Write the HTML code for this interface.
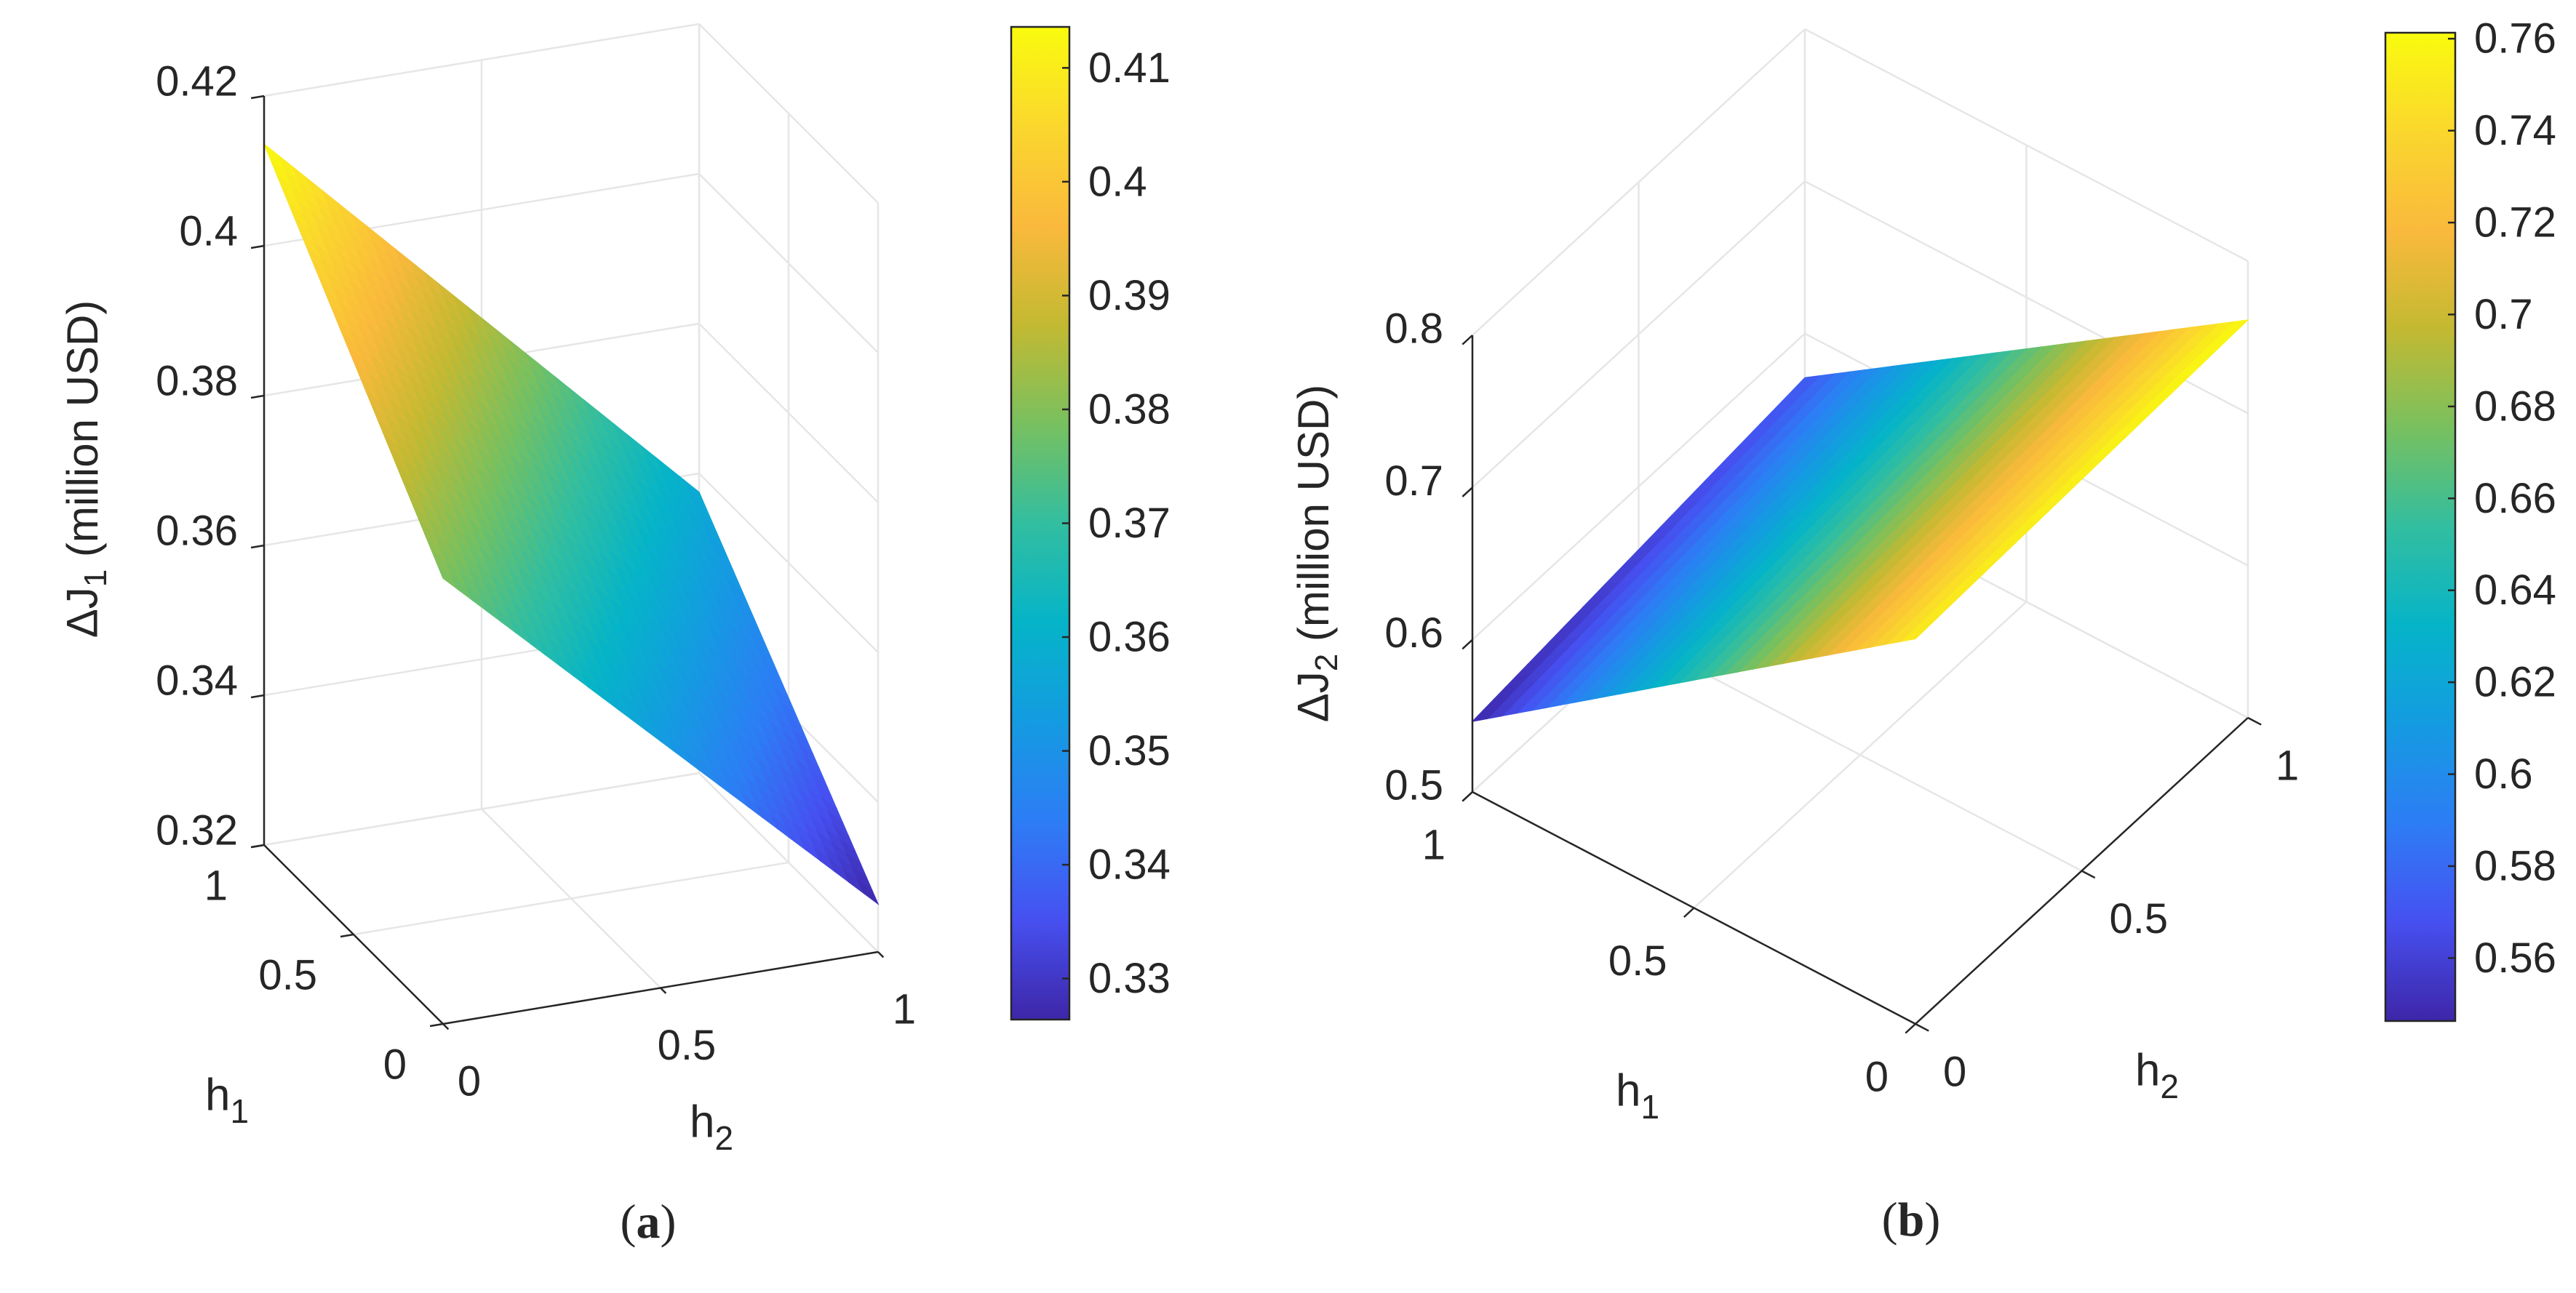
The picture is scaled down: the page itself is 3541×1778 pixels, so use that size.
<!DOCTYPE html>
<html><head><meta charset="utf-8"><style>
html,body{margin:0;padding:0;background:#fff}
svg{display:block}
text{font-family:"Liberation Sans",sans-serif;fill:#262626}
</style></head><body>
<svg id="fig" width="3541" height="1778" viewBox="0 0 3541 1778" xmlns="http://www.w3.org/2000/svg">
<defs>
<linearGradient id="parA" x1="0" y1="1" x2="0" y2="0"></linearGradient>
<linearGradient id="parB" x1="0" y1="1" x2="0" y2="0"></linearGradient>
</defs>
<g id="panelA"></g>
<g id="panelB"></g>
<text x="891" y="1680" font-size="66" text-anchor="middle" dominant-baseline="central" style="font-family:'Liberation Serif',serif">(<tspan font-weight="bold">a</tspan>)</text>
<text x="2627" y="1677" font-size="66" text-anchor="middle" dominant-baseline="central" style="font-family:'Liberation Serif',serif">(<tspan font-weight="bold">b</tspan>)</text>
</svg>
<script>
// Panel A data: corner values z[h1][h2]
const aH1 = [0, 1];
const aH2 = [0, 1];
const aZ = [[0.3795, 0.3264], [0.4136, 0.3575]];
const aZTicks = [0.32, 0.34, 0.36, 0.38, 0.40, 0.42];
const aZTickLabels = ["0.32", "0.34", "0.36", "0.38", "0.4", "0.42"];
const aCbTicks = [0.33, 0.34, 0.35, 0.36, 0.37, 0.38, 0.39, 0.40, 0.41];
const aCbLabels = ["0.33", "0.34", "0.35", "0.36", "0.37", "0.38", "0.39", "0.4", "0.41"];
// Panel B data
const bH1 = [0, 1];
const bH2 = [0, 1];
const bZ = [[0.753, 0.7613], [0.5463, 0.571]];
const bZTicks = [0.5, 0.6, 0.7, 0.8];
const bZTickLabels = ["0.5", "0.6", "0.7", "0.8"];
const bCbTicks = [0.56, 0.58, 0.60, 0.62, 0.64, 0.66, 0.68, 0.70, 0.72, 0.74, 0.76];
const bCbLabels = ["0.56", "0.58", "0.6", "0.62", "0.64", "0.66", "0.68", "0.7", "0.72", "0.74", "0.76"];
const hTicks = [0, 0.5, 1];
const hTickLabels = ["0", "0.5", "1"];

const NS = "http://www.w3.org/2000/svg";
const PARULA = [[0,[62,38,168]],[0.1,[70,80,240]],[0.2,[45,125,245]],[0.3,[20,155,225]],[0.4,[5,180,200]],[0.5,[50,190,160]],[0.6,[120,192,95]],[0.7,[195,185,50]],[0.8,[250,185,60]],[0.9,[250,215,45]],[1,[249,251,14]]];
function parula(t){
  t=Math.max(0,Math.min(1,t));
  for(let i=1;i<PARULA.length;i++){
    if(t<=PARULA[i][0]){
      const a=PARULA[i-1],b=PARULA[i],f=(t-a[0])/(b[0]-a[0]);
      return "rgb("+a[1].map((v,k)=>Math.round(v+(b[1][k]-v)*f)).join(",")+")";
    }
  }
  return "rgb(249,251,14)";
}
function mk(tag,attrs,parent){const e=document.createElementNS(NS,tag);for(const k in attrs)e.setAttribute(k,attrs[k]);parent.appendChild(e);return e;}

function drawPanel(g,cfg){
  const P=(h1,h2,z)=>[cfg.O[0]+h1*cfg.v1[0]+h2*cfg.v2[0], cfg.O[1]+h1*cfg.v1[1]+h2*cfg.v2[1]+(z-cfg.zmin)/(cfg.zmax-cfg.zmin)*cfg.vz];
  const line=(a,b,col,w,name)=>{const l=mk("line",{x1:a[0],y1:a[1],x2:b[0],y2:b[1],stroke:col,"stroke-width":w},g);
    
    };
  const GC="#e6e6e6", zmin=cfg.zmin, zmax=cfg.zmax;
  cfg.zTicks.forEach(z=>{line(P(1,0,z),P(1,1,z),GC,2.5,"grid-z");line(P(0,1,z),P(1,1,z),GC,2.5,"grid-z");});
  hTicks.forEach(h=>{
    line(P(1,h,zmin),P(1,h,zmax),GC,2.5,"grid-h2");line(P(0,h,zmin),P(1,h,zmin),GC,2.5,"grid-h2");
    line(P(h,1,zmin),P(h,1,zmax),GC,2.5,"grid-h1");line(P(h,0,zmin),P(h,1,zmin),GC,2.5,"grid-h1");
  });
  const N=30, Z=cfg.Z;
  const zf=(u,v)=>Z[0][0]*(1-u)*(1-v)+Z[0][1]*(1-u)*v+Z[1][0]*u*(1-v)+Z[1][1]*u*v;
  const sg=mk("g",{},g);
  
  
  for(let i=0;i<N;i++)for(let j=0;j<N;j++){
    const u0=cfg.H1[0]+(cfg.H1[1]-cfg.H1[0])*i/N,u1=cfg.H1[0]+(cfg.H1[1]-cfg.H1[0])*(i+1)/N;
    const v0=cfg.H2[0]+(cfg.H2[1]-cfg.H2[0])*j/N,v1=cfg.H2[0]+(cfg.H2[1]-cfg.H2[0])*(j+1)/N;
    const pts=[P(u0,v0,zf(u0,v0)),P(u1,v0,zf(u1,v0)),P(u1,v1,zf(u1,v1)),P(u0,v1,zf(u0,v1))];
    const c=parula((zf((u0+u1)/2,(v0+v1)/2)-cfg.cmin)/(cfg.cmax-cfg.cmin));
    const p=mk("polygon",{points:pts.map(q=>q.join(",")).join(" "),fill:c,stroke:c,"stroke-width":1.2},sg);
    
    
  }
  const AC="#262626";
  line(P(1,0,zmin),P(1,0,zmax),AC,2.5,"z-axis");
  line(P(0,0,zmin),P(1,0,zmin),AC,2.5,"h1-axis");
  line(P(0,0,zmin),P(0,1,zmin),AC,2.5,"h2-axis");
  const tl=0.03;
  cfg.zTicks.forEach((z,k)=>{
    const a=P(1,0,z),b=P(1,-tl,z);line(a,b,AC,2.5,"z-tick");
    const t=mk("text",{x:a[0]+cfg.zLab[0],y:a[1]+cfg.zLab[1],"font-size":58,"text-anchor":"end","dominant-baseline":"central"},g);
    t.textContent=cfg.zTickLabels[k];
    
    
  });
  hTicks.forEach((h,k)=>{
    const a=P(h,0,zmin);line(a,P(h,-tl,zmin),AC,2.5,"h1-tick");
    const t=mk("text",{x:a[0]+cfg.h1Lab[0],y:a[1]+cfg.h1Lab[1],"font-size":58,"text-anchor":"end","dominant-baseline":"central"},g);
    t.textContent=hTickLabels[k];
    
    
    const b=P(0,h,zmin);line(b,P(-tl,h,zmin),AC,2.5,"h2-tick");
    const t2=mk("text",{x:b[0]+cfg.h2Lab[0],y:b[1]+cfg.h2Lab[1],"font-size":58,"text-anchor":cfg.h2Anchor,"dominant-baseline":"central"},g);
    t2.textContent=hTickLabels[k];
    
    
  });
  const t1=mk("text",{x:cfg.h1T[0],y:cfg.h1T[1],"font-size":62,"text-anchor":"middle","dominant-baseline":"central"},g);
  t1.innerHTML='h<tspan font-size="46" dy="22">1</tspan>';
  
  
  const t2=mk("text",{x:cfg.h2T[0],y:cfg.h2T[1],"font-size":62,"text-anchor":"middle","dominant-baseline":"central"},g);
  t2.innerHTML='h<tspan font-size="46" dy="22">2</tspan>';
  
  
  const tz=mk("text",{x:0,y:0,"font-size":60,"text-anchor":"middle","dominant-baseline":"central",transform:"translate("+cfg.zT[0]+","+cfg.zT[1]+") rotate(-90)"},g);
  tz.innerHTML='ΔJ<tspan font-size="44" dy="18">'+cfg.sub+'</tspan><tspan dy="-18"> (million USD)</tspan>';
  
  
  const grad=document.getElementById(cfg.gradId);
  for(let i=0;i<=20;i++){mk("stop",{offset:(i/20),"stop-color":parula(i/20)},grad);}
  const cb=cfg.cb, cy=v=>cb.y1-(v-cfg.cmin)/(cfg.cmax-cfg.cmin)*(cb.y1-cb.y0);
  const r=mk("rect",{x:cb.x0,y:cb.y0,width:cb.x1-cb.x0,height:cb.y1-cb.y0,fill:"url(#"+cfg.gradId+")",stroke:"#262626","stroke-width":2.5},g);
  
  
  cfg.cbTicks.forEach((v,k)=>{
    const y=cy(v);
    line([cb.x1-10,y],[cb.x1,y],AC,2.5,"colorbar-tick");
    const t=mk("text",{x:cb.x1+26,y:y,"font-size":58,"dominant-baseline":"central"},g);
    t.textContent=cfg.cbLabels[k];
    
    
  });
}
drawPanel(document.getElementById("panelA"),{
  O:[609,1408],v1:[-246,-246],v2:[598,-99],vz:-1030,zmin:0.32,zmax:0.42,
  H1:aH1,H2:aH2,Z:aZ,zTicks:aZTicks,zTickLabels:aZTickLabels,cmin:0.3264,cmax:0.4136,
  zLab:[-36,-20],h1Lab:[-50,56],h2Lab:[36,79],h2Anchor:"middle",
  h1T:[312,1506],h2T:[978,1543],zT:[113,645],sub:"1",
  gradId:"parA",cb:{x0:1390,x1:1470,y0:37,y1:1402},cbTicks:aCbTicks,cbLabels:aCbLabels
});
drawPanel(document.getElementById("panelB"),{
  O:[2633,1408],v1:[-609,-319],v2:[457,-421],vz:-628,zmin:0.5,zmax:0.8,
  H1:bH1,H2:bH2,Z:bZ,zTicks:bZTicks,zTickLabels:bZTickLabels,cmin:0.5463,cmax:0.7613,
  zLab:[-40,-9],h1Lab:[-37,73],h2Lab:[38,66],h2Anchor:"start",
  h1T:[2251,1500],h2T:[2965,1472],zT:[1805,761],sub:"2",
  gradId:"parB",cb:{x0:3279,x1:3375,y0:45,y1:1404},cbTicks:bCbTicks,cbLabels:bCbLabels
});
</script>
</body></html>
